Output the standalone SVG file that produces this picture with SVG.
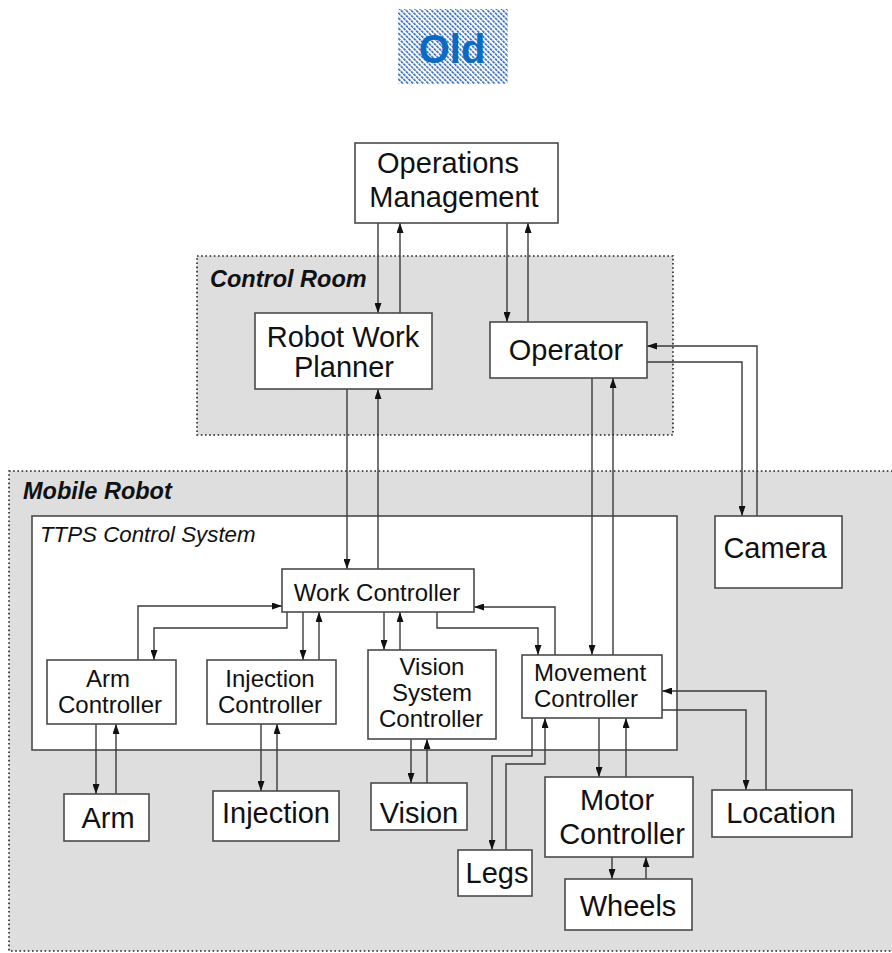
<svg xmlns="http://www.w3.org/2000/svg" width="892" height="953" viewBox="0 0 892 953">
  <style>
    .region { fill: #dedede; stroke: #222; stroke-width: 1.6; stroke-dasharray: 1.6 2.6; }
    .box { fill: #fff; stroke: #4a4a4a; stroke-width: 1.6; }
    .lbl { font-family: "Liberation Sans", Arial, sans-serif; fill: #111; text-anchor: middle; }
    .big { font-size: 29px; }
    .small { font-size: 24px; }
    .title { font-family: "Liberation Sans", Arial, sans-serif; font-weight: bold; font-style: italic; font-size: 23.5px; fill: #111; }
    .conn path { fill: none; stroke: #3a3a3a; stroke-width: 1.4; marker-end: url(#arrow); }
  </style>
  <defs>
    <marker id="arrow" markerUnits="userSpaceOnUse" markerWidth="10" markerHeight="7" refX="10" refY="3.5" orient="auto">
      <path d="M0,0 L10,3.5 L0,7 z" fill="#111"/>
    </marker>
    <pattern id="hatch" patternUnits="userSpaceOnUse" width="3.6" height="3.6" patternTransform="rotate(45)">
      <line x1="0" y1="1" x2="3.6" y2="1" stroke="#2e67bd" stroke-width="1.7" stroke-dasharray="2 0.8"/>
    </pattern>
  </defs>

  <!-- heading badge -->
  <g id="old-badge">
    <rect x="398" y="9" width="110" height="75" fill="#fff"/>
    <rect x="398" y="9" width="110" height="75" fill="url(#hatch)"/>
    <text x="452" y="63" font-family="'Liberation Sans', Arial, sans-serif" font-weight="bold" font-size="40" fill="#0b6bc3" text-anchor="middle">Old</text>
  </g>

  <!-- grouping regions -->
  <g id="mobile-robot">
    <rect class="region" x="9" y="471" width="900" height="480"/>
    <text class="title" x="23" y="499">Mobile Robot</text>
  </g>
  <g id="control-room">
    <rect class="region" x="197" y="256" width="476" height="179"/>
    <text class="title" x="210" y="287">Control Room</text>
  </g>
  <g id="ttps-control-system">
    <rect class="box" x="32" y="516" width="645" height="234"/>
    <text x="40" y="542" font-family="'Liberation Sans', Arial, sans-serif" font-style="italic" font-size="22.3" fill="#111">TTPS Control System</text>
  </g>

  <!-- connectors -->
  <g id="connectors" class="conn">
    <path d="M378,223 V313"/>
    <path d="M400,313 V223"/>
    <path d="M507,223 V322"/>
    <path d="M528,322 V223"/>
    <path d="M757,516 V346 H647"/>
    <path d="M647,362 H742 V516"/>
    <path d="M347,389 V569"/>
    <path d="M378,569 V389"/>
    <path d="M592,378 V655"/>
    <path d="M613,655 V378"/>
    <path d="M138,660 V606 H282"/>
    <path d="M287,612 V628 H154 V660"/>
    <path d="M303,612 V660"/>
    <path d="M319,660 V612"/>
    <path d="M384,612 V650"/>
    <path d="M400,650 V612"/>
    <path d="M437,612 V628 H538 V655"/>
    <path d="M555,655 V607 H474"/>
    <path d="M96,724 V794"/>
    <path d="M116,794 V724"/>
    <path d="M261,724 V791"/>
    <path d="M277,791 V724"/>
    <path d="M411,739 V783"/>
    <path d="M427,783 V739"/>
    <path d="M532,718 V756 H492 V850"/>
    <path d="M506,850 V764 H545 V718"/>
    <path d="M599,718 V777"/>
    <path d="M626,777 V718"/>
    <path d="M612,857 V879"/>
    <path d="M646,879 V857"/>
    <path d="M766,790 V691 H662"/>
    <path d="M662,710 H746 V790"/>
  </g>

  <!-- nodes -->
  <g id="operations-management">
    <rect class="box" x="355" y="143" width="203" height="80"/>
    <text class="lbl big" x="448" y="173">Operations</text>
    <text class="lbl big" x="454" y="207">Management</text>
  </g>
  <g id="robot-work-planner">
    <rect class="box" x="255" y="313" width="177" height="76"/>
    <text class="lbl big" x="343" y="347">Robot Work</text>
    <text class="lbl big" x="344" y="377">Planner</text>
  </g>
  <g id="operator">
    <rect class="box" x="490" y="322" width="157" height="56"/>
    <text class="lbl big" x="566" y="360">Operator</text>
  </g>
  <g id="camera">
    <rect class="box" x="715" y="516" width="127" height="72"/>
    <text class="lbl big" x="775" y="558">Camera</text>
  </g>
  <g id="work-controller">
    <rect class="box" x="282" y="569" width="192" height="43"/>
    <text class="lbl small" x="377" y="601">Work Controller</text>
  </g>
  <g id="arm-controller">
    <rect class="box" x="47" y="660" width="129" height="64"/>
    <text class="lbl small" x="108" y="687">Arm</text>
    <text class="lbl small" x="110" y="713">Controller</text>
  </g>
  <g id="injection-controller">
    <rect class="box" x="207" y="660" width="129" height="64"/>
    <text class="lbl small" x="270" y="687">Injection</text>
    <text class="lbl small" x="270" y="713">Controller</text>
  </g>
  <g id="vision-system-controller">
    <rect class="box" x="368" y="650" width="128" height="89"/>
    <text class="lbl small" x="432" y="675">Vision</text>
    <text class="lbl small" x="432" y="701">System</text>
    <text class="lbl small" x="431" y="727">Controller</text>
  </g>
  <g id="movement-controller">
    <rect class="box" x="522" y="655" width="140" height="63"/>
    <text class="lbl small" x="534" y="681" style="text-anchor:start">Movement</text>
    <text class="lbl small" x="534" y="707" style="text-anchor:start">Controller</text>
  </g>
  <g id="arm">
    <rect class="box" x="64" y="794" width="85" height="47"/>
    <text class="lbl big" x="108" y="828">Arm</text>
  </g>
  <g id="injection">
    <rect class="box" x="213" y="791" width="126" height="50"/>
    <text class="lbl big" x="276" y="823">Injection</text>
  </g>
  <g id="vision">
    <rect class="box" x="371" y="783" width="96" height="47"/>
    <text class="lbl big" x="419" y="823">Vision</text>
  </g>
  <g id="legs">
    <rect class="box" x="458" y="850" width="74" height="46"/>
    <text class="lbl big" x="497" y="883">Legs</text>
  </g>
  <g id="motor-controller">
    <rect class="box" x="545" y="777" width="148" height="80"/>
    <text class="lbl big" x="617" y="810">Motor</text>
    <text class="lbl big" x="622" y="844">Controller</text>
  </g>
  <g id="wheels">
    <rect class="box" x="565" y="879" width="127" height="51"/>
    <text class="lbl big" x="628" y="916">Wheels</text>
  </g>
  <g id="location">
    <rect class="box" x="712" y="790" width="140" height="47"/>
    <text class="lbl big" x="781" y="823">Location</text>
  </g>
</svg>
